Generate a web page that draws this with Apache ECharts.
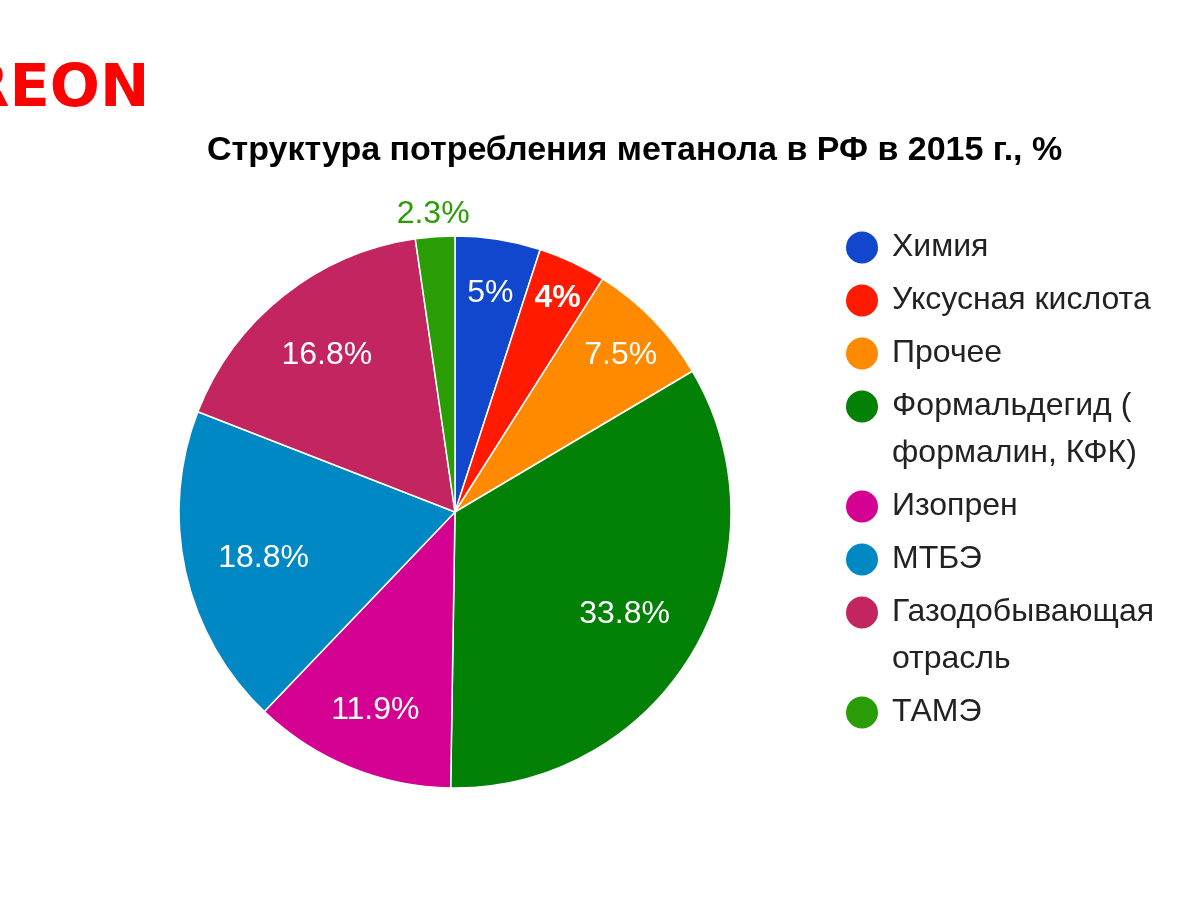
<!DOCTYPE html>
<html><head><meta charset="utf-8">
<script src="https://cdn.jsdelivr.net/npm/echarts@6/dist/echarts.min.js"></script>
<style>html,body{margin:0;padding:0;background:#fff}#c{width:1200px;height:900px}</style>
</head><body><div id="c"></div>
<script>
// ---- data ----
const categories = ['Химия', 'Уксусная кислота', 'Прочее', 'Формальдегид ( формалин, КФК)', 'Изопрен', 'МТБЭ', 'Газодобывающая отрасль', 'ТАМЭ'];
const legendText = ['Химия', 'Уксусная кислота', 'Прочее', 'Формальдегид (\nформалин, КФК)', 'Изопрен', 'МТБЭ', 'Газодобывающая\nотрасль', 'ТАМЭ'];
const shares = [5, 4, 7.5, 33.8, 11.9, 18.8, 16.8, 2.3];
const titleText = 'Структура потребления метанола в РФ в 2015 г., %';
const brandText = 'REON';

// ---- style ----
const colors = ['#1147cc', '#ff1a00', '#ff8a00', '#038006', '#d30091', '#0088c4', '#c2255f', '#2a9c05'];
const labelPush = [30, 45, 35, 0, 14, 0, 10, 107];
const CX = 455, CY = 512, R = 276;
const FONT = '"Liberation Sans", Arial, sans-serif';
const LH = 47, ICON = 32;
// circle at the top of a tall icon box, so the dot lines up with the first text line
const topDotIcon = 'path://M16,0A16,16,0,1,1,16,32A16,16,0,1,1,16,0ZM0,' + (ICON + LH) + 'L32,' + (ICON + LH);

const chart = echarts.init(document.getElementById('c'));
const pieData = categories.map((n, i) => ({ name: n, value: shares[i], itemStyle: { color: colors[i] } }));
const ghostData = categories.map((n, i) => {
  const d = { name: n, value: shares[i] };
  if (i === 1) d.label = { fontWeight: 'bold' };
  if (i === 7) d.label = { color: colors[7] };
  return d;
});

chart.setOption({
  animation: false,
  backgroundColor: '#fff',
  title: {
    text: titleText, left: 207, top: 134, padding: 0,
    textStyle: { fontFamily: FONT, fontSize: 34, fontWeight: 'bold', color: '#000' }
  },
  graphic: [{
    type: 'text', x: -36, y: 61,
    style: { text: brandText, font: 'bold 59px "DejaVu Sans", sans-serif', fill: '#ff0000', textVerticalAlign: 'top' }
  }],
  legend: {
    orient: 'vertical', left: 846, top: 224, padding: 0,
    itemWidth: ICON, itemHeight: ICON + LH, itemGap: 6, symbolKeepAspect: true,
    selectedMode: false,
    itemStyle: { borderWidth: 0 },
    formatter: function (name) { return legendText[categories.indexOf(name)]; },
    textStyle: { fontFamily: FONT, fontSize: 32, color: '#222', lineHeight: LH, padding: [0, 0, 0, 9] },
    data: categories.map((n, i) => ({
      name: n,
      icon: legendText[i].indexOf('\n') >= 0 ? topDotIcon : 'circle'
    }))
  },
  series: [{
    type: 'pie', center: [CX, CY], radius: R, startAngle: 90, clockwise: true,
    silent: true,
    data: pieData,
    label: { show: false }, labelLine: { show: false },
    itemStyle: { borderColor: '#fff', borderWidth: 1.5 },
    emphasis: { disabled: true }
  }, {
    type: 'pie', center: [CX, CY], radius: [110, R], startAngle: 90, clockwise: true,
    silent: true, legendHoverLink: false,
    data: ghostData,
    itemStyle: { color: 'rgba(0,0,0,0)', borderWidth: 0 },
    emphasis: { disabled: true },
    labelLine: { show: false },
    label: {
      show: true, position: 'inside', formatter: '{c}%',
      fontFamily: FONT, fontSize: 32, color: '#fff'
    },
    labelLayout: function (p) {
      const r = p.labelRect;
      const lx = r.x + r.width / 2, ly = r.y + r.height / 2;
      const vx = lx - CX, vy = ly - CY;
      const d = Math.sqrt(vx * vx + vy * vy) || 1;
      const k = labelPush[p.dataIndex] / d;
      return { dx: vx * k, dy: vy * k + 4 };
    }
  }]
});
</script></body></html>
